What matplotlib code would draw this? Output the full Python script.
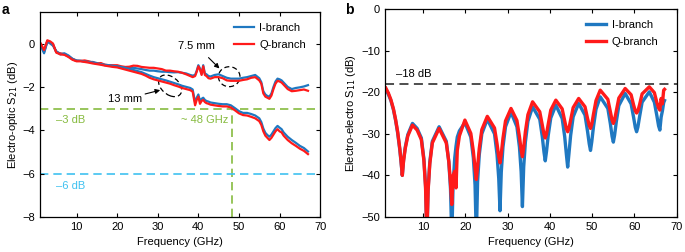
import matplotlib
matplotlib.use("Agg")
import matplotlib.pyplot as plt
from matplotlib.patches import Ellipse

plt.rcParams['font.family'] = ['Liberation Sans', 'DejaVu Sans']
plt.rcParams['font.size'] = 8

BLUE = "#1f78c1"
RED = "#ff1a1a"
GREEN = "#86bb3f"
SKY = "#3fc1f0"

# ---- panel a: electro-optic S21 (dB) ----
freq_a = [1.2, 2, 2.8, 3.5, 4.2, 5, 6, 7, 8, 9, 10, 11, 12, 13, 14, 15, 16, 17, 18, 19,
          20, 21, 22, 23, 24, 25, 26, 27, 28, 29, 30, 31, 32, 33, 34, 35, 36, 37, 38,
          38.6, 39.2, 39.6, 40, 40.4, 40.8, 41.2, 41.6, 42, 42.5,
          43, 44, 45, 46, 47, 48, 49, 50, 51, 52, 53, 54, 55,
          55.5, 56, 56.5, 57, 57.5, 58, 58.5, 59, 59.5, 60, 60.5, 61,
          62, 63, 64, 65, 66, 67]

q_75mm = [-0.05, -0.35, 0.12, 0.05, -0.05, -0.4, -0.45, -0.5, -0.6, -0.72, -0.8, -0.8,
          -0.78, -0.82, -0.88, -0.92, -0.9, -0.98, -1.0, -1.0, -1.0, -1.05, -1.08, -1.07,
          -1.02, -1.03, -1.08, -1.1, -1.12, -1.12, -1.15, -1.18, -1.25, -1.25, -1.28, -1.3,
          -1.35, -1.42, -1.5,
          -1.55, -1.5, -1.3, -1.05, -1.2, -1.45, -1.05, -1.45, -1.5, -1.6,
          -1.62, -1.55, -1.55, -1.6, -1.7, -1.72, -1.72, -1.72, -1.68, -1.65, -1.58, -1.55, -1.7,
          -1.85, -2.3, -2.45, -2.5, -2.55, -2.4, -2.1, -1.85, -1.72, -1.75, -1.8, -1.9,
          -2.1, -2.2, -2.18, -2.15, -2.12, -2.18]

i_75mm = [-0.1, -0.45, 0.08, 0.0, -0.1, -0.35, -0.5, -0.45, -0.55, -0.7, -0.78, -0.8,
          -0.82, -0.85, -0.85, -0.9, -0.95, -1.0, -1.02, -1.05, -1.05, -1.1, -1.1, -1.12,
          -1.12, -1.15, -1.18, -1.22, -1.25, -1.25, -1.28, -1.3, -1.3, -1.32, -1.33, -1.32,
          -1.35, -1.38, -1.45,
          -1.48, -1.45, -1.25, -1.0, -1.15, -1.4, -1.0, -1.38, -1.42, -1.5,
          -1.52, -1.45, -1.42, -1.5, -1.58, -1.62, -1.62, -1.62, -1.58, -1.55, -1.5, -1.45, -1.6,
          -1.78, -2.2, -2.35, -2.42, -2.45, -2.3, -2.0, -1.75, -1.62, -1.65, -1.7, -1.8,
          -2.0, -2.1, -2.05, -2.02, -1.98, -1.92]

q_13mm = [0.0, -0.3, 0.15, 0.1, 0.0, -0.42, -0.5, -0.52, -0.62, -0.75, -0.82, -0.82,
          -0.85, -0.88, -0.92, -0.95, -0.98, -1.02, -1.05, -1.08, -1.1, -1.15, -1.2, -1.25,
          -1.3, -1.35, -1.4, -1.48, -1.58, -1.65, -1.7, -1.75, -1.8, -1.85, -1.92, -1.98,
          -2.05, -2.1, -2.15,
          -2.22, -2.85, -2.6, -2.45, -2.78, -2.65, -2.6, -2.7, -2.75, -2.78,
          -2.82, -2.85, -2.88, -2.9, -2.9, -2.95, -3.08, -3.22, -3.3, -3.32, -3.38, -3.45, -3.58,
          -3.75, -4.05, -4.25, -4.35, -4.45, -4.35, -4.2, -4.05, -3.95, -4.05, -4.1, -4.25,
          -4.45, -4.6, -4.72, -4.85, -4.95, -5.1]

i_13mm = [-0.05, -0.4, 0.1, 0.05, -0.05, -0.38, -0.48, -0.48, -0.58, -0.72, -0.8, -0.8,
          -0.83, -0.85, -0.88, -0.92, -0.95, -0.98, -1.0, -1.03, -1.05, -1.08, -1.12, -1.17,
          -1.22, -1.27, -1.32, -1.4, -1.48, -1.55, -1.6, -1.65, -1.7, -1.76, -1.82, -1.88,
          -1.95, -2.0, -2.05,
          -2.12, -2.72, -2.5, -2.35, -2.65, -2.55, -2.5, -2.6, -2.65, -2.68,
          -2.72, -2.75, -2.78, -2.8, -2.8, -2.85, -2.98, -3.12, -3.2, -3.2, -3.25, -3.32, -3.45,
          -3.62, -3.92, -4.12, -4.22, -4.3, -4.2, -4.05, -3.9, -3.8, -3.88, -3.95, -4.1,
          -4.3, -4.45, -4.58, -4.72, -4.82, -4.98]

# ---- panel b: electro-electro S11 (dB) ----
freq_b = [1.2, 1.8, 2.4, 3.0, 3.5, 4.0, 4.5, 4.8, 5.1,
          5.4, 5.8, 6.4, 7.5, 8.6, 9.6, 10.2, 10.6, 10.9,
          11.2, 11.6, 12.2, 13.8, 15.5, 16.1, 16.5, 16.8,
          17.1, 17.5, 17.8, 18.1, 18.6, 19.9, 21.3, 21.9, 22.3, 22.6,
          22.9, 23.3, 23.9, 25.2, 26.9, 27.5, 27.9, 28.2,
          28.5, 28.9, 29.5, 30.8, 32.2, 32.8, 33.2, 33.5,
          33.8, 34.2, 34.8, 35.9, 37.6, 38.2, 38.6, 38.9,
          39.2, 39.6, 40.2, 41.4, 42.9, 43.5, 43.9, 44.2,
          44.5, 44.9, 45.5, 46.8, 48.3, 48.9, 49.3, 49.6,
          49.9, 50.3, 50.9, 51.9, 53.7, 54.3, 54.7, 55.0,
          55.3, 55.7, 56.3, 57.8, 59.2, 59.8, 60.2, 60.5,
          60.8, 61.2, 61.8, 63.5, 64.7, 65.3, 65.7, 66.0,
          66.3, 66.6, 66.9, 67.1]

s11_q = [-19.0, -20.2, -21.8, -24.0, -26.5, -29.5, -33.5, -36.5, -40.0,
         -36.5, -33.5, -30.5, -27.9, -29.1, -31.4, -36.4, -43.0, -55.0,
         -43.7, -37.2, -32.2, -28.7, -32.2, -36.7, -42.0, -47.0,
         -40.0, -39.0, -43.0, -34.0, -30.5, -26.7, -29.9, -34.2, -38.3, -41.0,
         -37.9, -33.5, -29.0, -25.8, -28.6, -32.4, -35.5, -37.0,
         -34.8, -31.1, -26.9, -23.9, -26.8, -30.7, -33.9, -35.5,
         -33.3, -29.5, -25.4, -22.3, -24.7, -27.9, -30.1, -31.0,
         -30.0, -27.7, -24.3, -21.9, -24.0, -26.9, -28.8, -29.5,
         -28.7, -26.7, -23.7, -21.5, -23.5, -26.3, -28.0, -28.7,
         -27.7, -25.3, -22.0, -19.5, -21.7, -24.7, -26.7, -27.5,
         -26.6, -24.5, -21.4, -19.1, -20.6, -23.1, -24.5, -25.0,
         -24.5, -23.0, -20.4, -18.7, -20.1, -22.5, -23.8, -24.3,
         -21.5, -22.8, -19.5, -19.3]

s11_i = [-19.3, -20.5, -22.0, -24.2, -26.7, -29.8, -33.8, -36.8, -40.0,
         -36.3, -33.2, -30.2, -27.5, -28.7, -31.0, -36.0, -42.5, -55.0,
         -43.3, -36.8, -31.8, -28.3, -31.8, -36.8, -43.3, -55.0,
         -42.3, -35.8, -33.0, -30.8, -29.3, -27.3, -30.8, -35.8, -42.3, -55.0,
         -41.5, -35.0, -30.0, -26.5, -30.0, -35.0, -40.7, -48.5,
         -39.2, -33.2, -28.3, -24.8, -28.3, -33.2, -39.1, -47.5,
         -38.0, -32.0, -27.0, -23.5, -26.5, -30.7, -34.4, -36.5,
         -34.2, -30.4, -26.2, -23.1, -26.3, -30.7, -35.0, -38.0,
         -34.8, -30.4, -25.9, -22.7, -25.5, -29.4, -32.4, -34.0,
         -31.9, -28.3, -24.1, -21.1, -23.9, -27.6, -30.6, -32.0,
         -30.3, -27.1, -23.2, -20.3, -22.8, -26.1, -28.5, -29.5,
         -28.4, -25.9, -22.4, -19.9, -22.4, -25.7, -28.1, -29.1,
         -26.0, -24.5, -22.5, -22.0]

fig = plt.figure(figsize=(6.85, 2.52), dpi=100)
ax1 = fig.add_axes([0.0584, 0.139, 0.409, 0.813])
ax2 = fig.add_axes([0.562, 0.139, 0.426, 0.825])

for ax in (ax1, ax2):
    ax.tick_params(direction='in', top=True, right=True, length=3, width=0.8, labelsize=8)
    for s in ax.spines.values():
        s.set_linewidth(0.9)
    ax.set_xlim(1, 70)
    ax.set_xticks([10, 20, 30, 40, 50, 60, 70])
    ax.set_xlabel("Frequency (GHz)", fontsize=8, labelpad=4)

# panel a
ax1.axhline(-3, color=GREEN, ls=(0, (5, 3)), lw=1.2, zorder=1)
ax1.plot([48.3, 48.3], [-8, -3], color=GREEN, ls=(0, (5, 3)), lw=1.2, zorder=1)
ax1.axhline(-6, color=SKY, ls=(0, (5, 3)), lw=1.2, zorder=1)
ax1.plot(freq_a, i_75mm, color=BLUE, lw=1.6, label="I-branch")
ax1.plot(freq_a, q_75mm, color=RED, lw=1.6, label="Q-branch")
ax1.plot(freq_a, i_13mm, color=BLUE, lw=1.6)
ax1.plot(freq_a, q_13mm, color=RED, lw=1.6)
ax1.set_ylim(-8, 1.45)
ax1.set_yticks([0, -2, -4, -6, -8])
ax1.set_ylabel("Electro-optic S$_{21}$ (dB)", fontsize=8, labelpad=2)
ax1.text(4.9, -3.55, "–3 dB", color=GREEN, fontsize=8, va='center')
ax1.text(47.4, -3.55, "~ 48 GHz", color=GREEN, fontsize=8, va='center', ha='right')
ax1.text(4.9, -6.55, "–6 dB", color=SKY, fontsize=8, va='center')

ax1.add_patch(Ellipse((47.6, -1.53), 5.3, 0.92, fill=False, ls=(0, (4, 2.5)), lw=0.9, color='k'))
ax1.add_patch(Ellipse((33.05, -1.95), 5.7, 0.92, angle=-4, fill=False, ls=(0, (4, 2.5)), lw=0.9, color='k'))
ax1.annotate("7.5 mm", xy=(45.2, -1.15), xytext=(39.6, -0.11), ha='center', va='center', fontsize=8,
             arrowprops=dict(arrowstyle='-|>', color='k', lw=0.8, mutation_scale=7, shrinkA=4, shrinkB=0))
ax1.annotate("13 mm", xy=(30.6, -2.15), xytext=(22.0, -2.56), ha='center', va='center', fontsize=8,
             arrowprops=dict(arrowstyle='-|>', color='k', lw=0.8, mutation_scale=7, shrinkA=0, shrinkB=0))
ax1.legend(loc='upper left', bbox_to_anchor=(0.655, 0.995), frameon=False, fontsize=8,
           handlelength=1.8, handletextpad=0.5, labelspacing=0.6)
fig.text(0.003, 0.96, "a", fontsize=10, fontweight='bold', va='center')

# panel b
ax2.axhline(-18, color="#404040", ls=(0, (5, 3)), lw=1.3, zorder=1)
ax2.plot(freq_b, s11_i, color=BLUE, lw=2.4, label="I-branch")
ax2.plot(freq_b, s11_q, color=RED, lw=2.4, label="Q-branch")
ax2.set_ylim(-50, 0)
ax2.set_yticks([0, -10, -20, -30, -40, -50])
ax2.set_ylabel("Electro-electro S$_{11}$ (dB)", fontsize=8, labelpad=2)
ax2.text(3.5, -15.5, "–18 dB", fontsize=8, va='center')
ax2.legend(loc='upper left', bbox_to_anchor=(0.655, 0.995), frameon=False, fontsize=8,
           handlelength=1.8, handletextpad=0.5, labelspacing=0.6)
fig.text(0.504, 0.96, "b", fontsize=10, fontweight='bold', va='center')

fig.savefig("out.png", dpi=100)
